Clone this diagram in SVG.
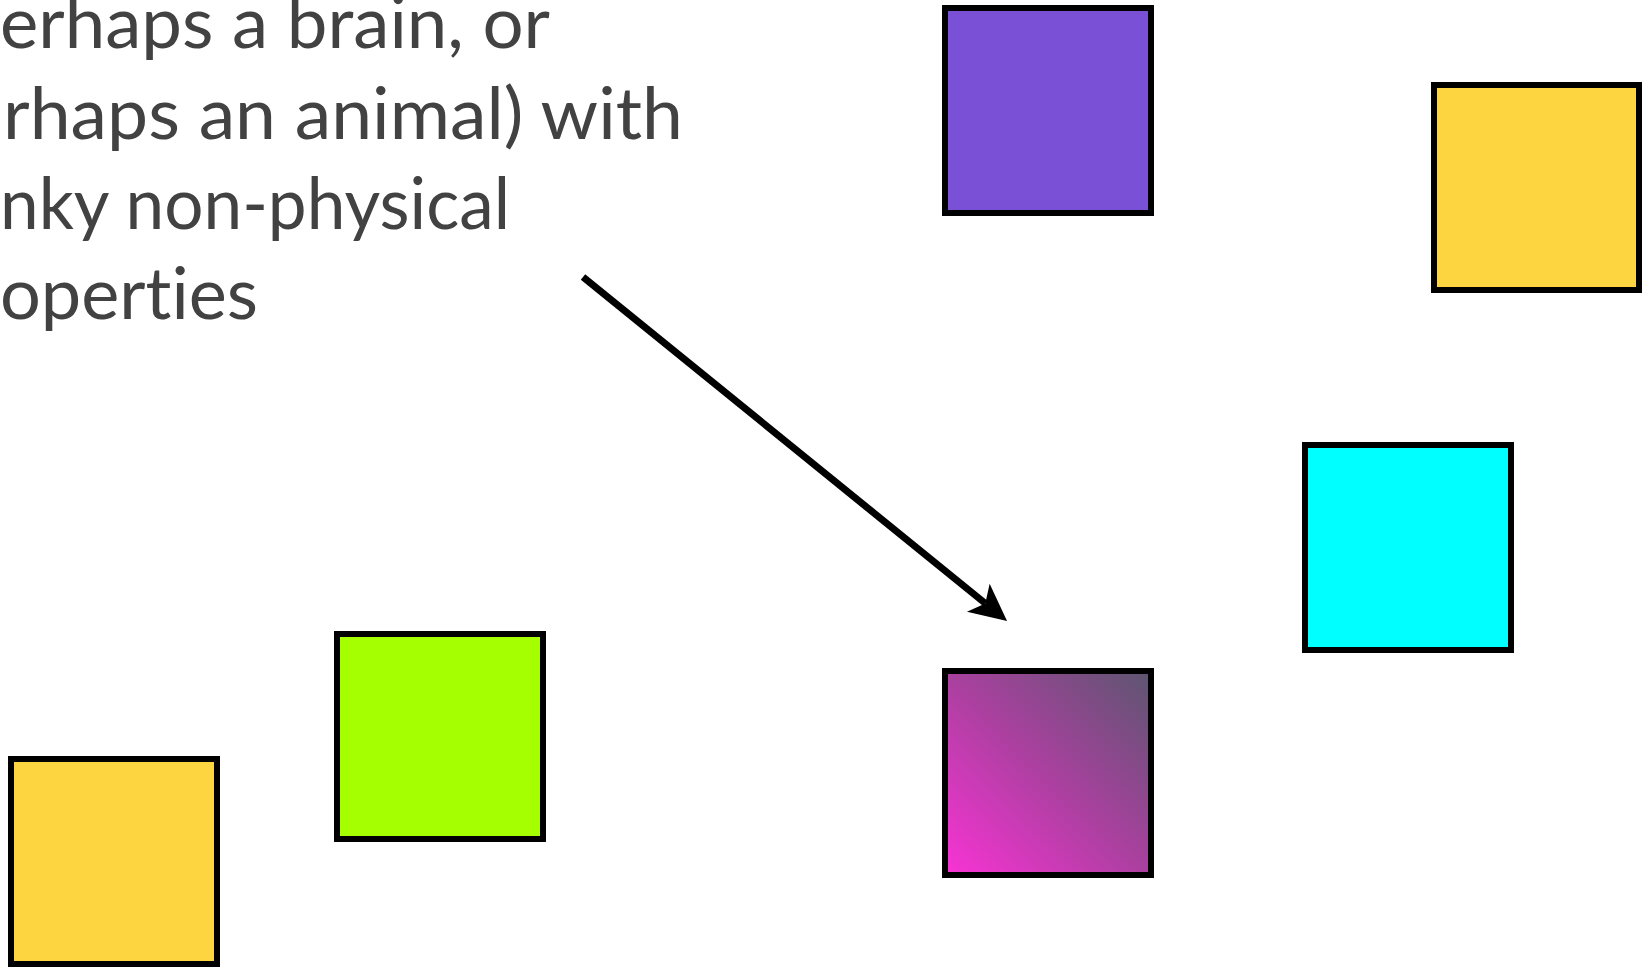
<svg xmlns="http://www.w3.org/2000/svg" width="1644" height="967" viewBox="0 0 1644 967">
  <style>
    .box { stroke: #000000; stroke-width: 6; }
    .label { font-family: "Lato", "Open Sans", "Liberation Sans", sans-serif; font-size: 71px; fill: #424242; font-variant-ligatures: none; font-feature-settings: "liga" 0; }
    .conn { stroke: #000000; stroke-width: 7; fill: none; stroke-linecap: butt; }
  </style>
  <defs>
    <linearGradient id="magentaGrad" x1="0" y1="1" x2="1" y2="0">
      <stop offset="0" stop-color="#F933D5"/>
      <stop offset="0.5" stop-color="#AA409F"/>
      <stop offset="1" stop-color="#5C5670"/>
    </linearGradient>
    <marker id="arrowHead" markerUnits="userSpaceOnUse" viewBox="-38 -20 40 40" markerWidth="40" markerHeight="40" refX="-28" refY="0" orient="auto">
      <path d="M0,0 L-37,-18 L-28,0 L-37,18 Z" fill="#000000"/>
    </marker>
  </defs>
  <rect width="1644" height="967" fill="#FFFFFF"/>

  <g id="caption">
    <text class="label" x="0" y="48" textLength="550" lengthAdjust="spacingAndGlyphs">erhaps a brain, or</text>
    <text class="label" x="3" y="139" textLength="680" lengthAdjust="spacingAndGlyphs">rhaps an animal) with</text>
    <text class="label" x="0" y="229" textLength="510" lengthAdjust="spacingAndGlyphs">nky non-physical</text>
    <text class="label" x="0" y="319" textLength="258" lengthAdjust="spacingAndGlyphs">operties</text>
  </g>

  <g id="box-purple">
    <rect class="box" x="945" y="8" width="206" height="205" fill="#7A50D6"/>
  </g>
  <g id="box-yellow-top">
    <rect class="box" x="1434" y="85" width="205" height="205" fill="#FDD540"/>
  </g>
  <g id="box-cyan">
    <rect class="box" x="1305" y="445" width="206" height="205" fill="#00FFFF"/>
  </g>
  <g id="box-gradient">
    <rect class="box" x="945" y="671" width="206" height="204" fill="url(#magentaGrad)"/>
  </g>
  <g id="box-green">
    <rect class="box" x="337" y="634" width="206" height="205" fill="#A6FF00"/>
  </g>
  <g id="box-yellow-bottom">
    <rect class="box" x="11" y="759" width="206" height="205" fill="#FDD540"/>
  </g>

  <g id="connectors">
    <line class="conn" x1="583" y1="277" x2="985.3" y2="603.4" marker-end="url(#arrowHead)"/>
  </g>
</svg>
